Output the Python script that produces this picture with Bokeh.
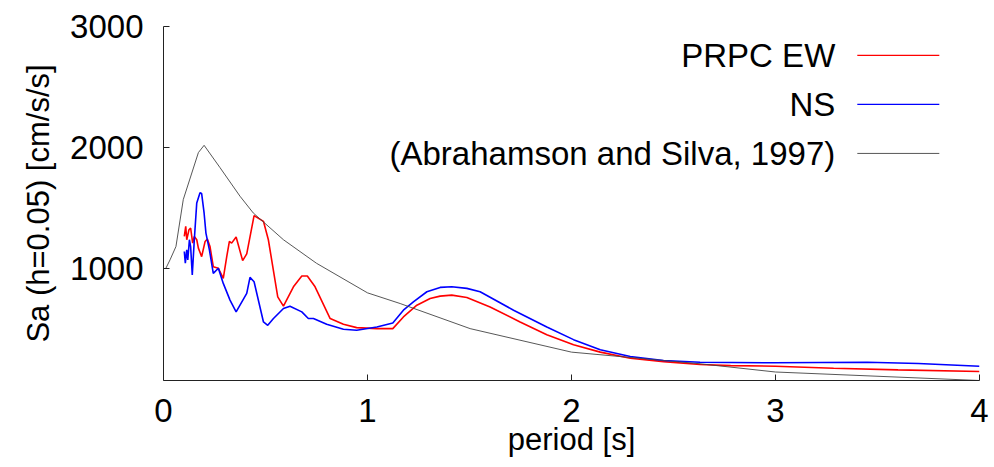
from bokeh.plotting import figure
from bokeh.models import Range1d, FixedTicker, Label
from bokeh.embed import file_html
from bokeh.resources import INLINE

# ---- data ----
red_x = [0.102, 0.109, 0.114, 0.125, 0.133, 0.143, 0.151, 0.163, 0.171, 0.187, 0.204, 0.215,
         0.228, 0.244, 0.269, 0.293, 0.31, 0.323, 0.334, 0.356, 0.388, 0.408, 0.444, 0.49,
         0.514, 0.56, 0.588, 0.637, 0.678, 0.705, 0.743, 0.817, 0.882, 0.947, 1.046, 1.124,
         1.176, 1.242, 1.307, 1.356, 1.413, 1.487, 1.601, 1.748, 1.879, 2.01, 2.141, 2.288,
         2.451, 2.63, 2.78, 3.0, 3.285, 3.6, 4.0]
red_y = [1268, 1351, 1241, 1324, 1338, 1213, 1268, 1241, 1172, 1102, 1227, 1246,
         1185, 1019, 1006, 923, 1102, 1227, 1213, 1263, 1069, 1124, 1440, 1393,
         1241, 770, 693, 853, 942, 942, 853, 591, 544, 516, 508, 508,
         604, 701, 757, 776, 784, 765, 687, 562, 458, 375, 314, 264,
         236, 212, 203, 198, 181, 168, 154]

blue_x = [0.102, 0.107, 0.114, 0.119, 0.127, 0.133, 0.141, 0.151, 0.163, 0.179, 0.187, 0.199,
          0.208, 0.225, 0.244, 0.269, 0.293, 0.326, 0.356, 0.408, 0.424, 0.444, 0.49, 0.511,
          0.539, 0.588, 0.62, 0.678, 0.71, 0.735, 0.8, 0.882, 0.947, 1.046, 1.124, 1.176,
          1.225, 1.291, 1.356, 1.413, 1.487, 1.552, 1.716, 1.879, 2.01, 2.141, 2.288, 2.451,
          2.63, 2.99, 3.45, 3.7, 4.0]
blue_y = [1144, 1047, 1158, 1075, 1241, 1185, 950, 1241, 1545, 1628, 1622, 1462,
          1296, 1158, 964, 1006, 881, 743, 646, 798, 931, 895, 563, 535,
          591, 674, 693, 646, 591, 591, 544, 503, 494, 521, 554, 660,
          729, 812, 848, 853, 840, 812, 660, 521, 417, 334, 278, 245,
          231, 226, 231, 220, 198]

as_x = [0.01, 0.032, 0.061, 0.097, 0.171, 0.199, 0.277, 0.375, 0.44, 0.588, 0.75, 1.0,
        1.16, 1.503, 2.0, 2.63, 3.0, 4.0]
as_y = [1000, 1075, 1185, 1573, 1960, 2020, 1836, 1600, 1462, 1241, 1047, 803,
        715, 508, 314, 218, 150, 80]

series_names = ["PRPC EW", "NS", "(Abrahamson and Silva, 1997)"]
series_colors = ["#ff0000", "#0000ff", "#444444"]
series_widths = [1.6, 1.6, 0.9]
x_ticks = [0, 1, 2, 3, 4]
y_ticks = [1000, 2000, 3000]

FONT = "Liberation Sans"

p = figure(width=994, height=467, output_backend="svg", toolbar_location=None,
           x_range=Range1d(0, 4), y_range=Range1d(80, 3000),
           min_border_left=163, min_border_right=15, min_border_top=26, min_border_bottom=87)
p.outline_line_color = None
p.xgrid.visible = False
p.ygrid.visible = False
p.background_fill_color = "white"
p.border_fill_color = "white"

for ax, ticks in ((p.xaxis[0], x_ticks), (p.yaxis[0], y_ticks)):
    ax.ticker = FixedTicker(ticks=ticks)
    ax.minor_tick_line_color = None
    ax.major_tick_in = 6
    ax.major_tick_out = 0
    ax.axis_line_color = "#222222"
    ax.major_tick_line_color = "#222222"
    ax.major_label_text_font = FONT
    ax.major_label_text_font_size = "33px"
    ax.major_label_text_color = "black"
    ax.axis_label_text_font = FONT
    ax.axis_label_text_font_size = "31px"
    ax.axis_label_text_font_style = "normal"
    ax.axis_label_text_color = "black"

p.xaxis.axis_label = "period [s]"
p.yaxis.axis_label = "Sa (h=0.05) [cm/s/s]"
p.xaxis.major_label_standoff = 18
p.xaxis.axis_label_standoff = -3
p.yaxis.major_label_standoff = 20
p.yaxis.axis_label_standoff = 11

xs = [red_x, blue_x, as_x]
ys = [red_y, blue_y, as_y]
for sx, sy, c, w in zip(xs, ys, series_colors, series_widths):
    p.line(sx, sy, line_color=c, line_width=w)

# ---- key (text right-aligned, sample line on its right) ----
key_text_x = 3.293
key_line_x0, key_line_x1 = 3.401, 3.803
key_rows_y = [2761, 2357, 1953]
for name, c, w, ky in zip(series_names, series_colors, series_widths, key_rows_y):
    p.add_layout(Label(x=key_text_x, y=ky, text=name, text_align="right",
                       text_baseline="middle", text_font=FONT, text_font_size="33px",
                       text_color="black"))
    p.segment(x0=[key_line_x0], y0=[ky], x1=[key_line_x1], y1=[ky],
              line_color=c, line_width=1.2 if c != "#444444" else 0.9)

open("out.html", "w").write(file_html(p, INLINE))
